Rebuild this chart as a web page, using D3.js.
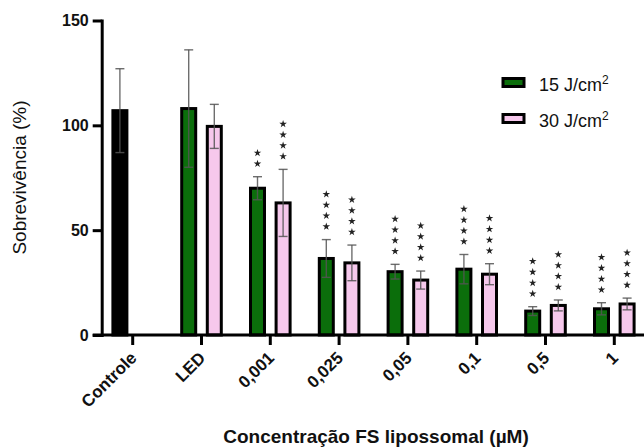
<!DOCTYPE html>
<html>
<head>
<meta charset="utf-8">
<script src="https://cdn.jsdelivr.net/npm/d3@7/dist/d3.min.js"></script>
<style>
  body { margin: 0; background: #fff; }
  svg { display: block; font-family: "Liberation Sans", Arial, sans-serif; }
</style>
</head>
<body>
<svg id="chart" width="644" height="448"></svg>
<script>
// data
const categories = ["Controle", "LED", "0,001", "0,025", "0,05", "0,1", "0,5", "1"];
const ctrlMean = [107];
const ctrlSD = [20];
const mean15 = [null, 108, 70, 36.5, 30.2, 31.4, 11.4, 12.5];
const sd15   = [null, 28, 5.5, 9, 3.5, 7, 2.1, 2.9];
const mean30 = [null, 99.5, 63, 34.4, 26.2, 29, 14.1, 14.8];
const sd30   = [null, 10.5, 16, 8.5, 4.3, 5, 2.6, 2.8];
const stars15 = [0, 0, 2, 4, 4, 4, 4, 4];
const stars30 = [0, 0, 4, 4, 4, 4, 4, 4];
const yTicks = [0, 50, 100, 150];
const seriesNames = ["15 J/cm", "30 J/cm"];

const green = "#0b6e0b", pink = "#f6c8ec";

let svg = d3.select("#chart");

let x = d3.scaleBand()
    .domain(categories)
    .range([98.3, 648.7])
    .padding(0);

let xSub = d3.scaleBand()
    .domain(["s15", "s30"])
    .range([x.bandwidth() / 2 - 25.6, x.bandwidth() / 2 + 25.6]);

let y = d3.scaleLinear()
    .domain([0, 150])
    .range([335, 20.5]);

let barW = 14;

// build rows from the arrays
let bars = [];
bars.push({cat: categories[0], sub: "s15", mean: ctrlMean[0], sd: ctrlSD[0], fill: "#000", stars: 0});
categories.forEach((c, i) => {
    if (mean15[i] != null) bars.push({cat: c, sub: "s15", mean: mean15[i], sd: sd15[i], fill: green, stars: stars15[i]});
    if (mean30[i] != null) bars.push({cat: c, sub: "s30", mean: mean30[i], sd: sd30[i], fill: pink, stars: stars30[i]});
});
let cx = (d) => x(d.cat) + xSub(d.sub) + xSub.bandwidth() / 2;

// bars
svg.append("g").selectAll("rect")
    .data(bars)
    .enter().append("rect")
    .attr("x", (d) => cx(d) - barW / 2)
    .attr("y", (d) => y(d.mean))
    .attr("width", barW)
    .attr("height", (d) => y(0) - y(d.mean))
    .attr("fill", (d) => d.fill)
    .attr("stroke", "#000")
    .attr("stroke-width", 3);

// error bars
let err = svg.append("g")
    .attr("stroke", "#555")
    .attr("stroke-opacity", 0.85)
    .attr("stroke-width", 1.4);

err.selectAll(".stem").data(bars).enter().append("line")
    .attr("x1", cx).attr("x2", cx)
    .attr("y1", (d) => y(d.mean - d.sd))
    .attr("y2", (d) => y(d.mean + d.sd));

err.selectAll(".capTop").data(bars).enter().append("line")
    .attr("x1", (d) => cx(d) - 4.5).attr("x2", (d) => cx(d) + 4.5)
    .attr("y1", (d) => y(d.mean + d.sd))
    .attr("y2", (d) => y(d.mean + d.sd));

err.selectAll(".capBot").data(bars).enter().append("line")
    .attr("x1", (d) => cx(d) - 4.5).attr("x2", (d) => cx(d) + 4.5)
    .attr("y1", (d) => y(d.mean - d.sd))
    .attr("y2", (d) => y(d.mean - d.sd));

// significance stars
let starData = [];
bars.forEach((d) => {
    for (let k = 0; k < d.stars; k++) starData.push({x: cx(d), y: y(d.mean + d.sd) - 13 - k * 10.8});
});
svg.append("g").selectAll("path")
    .data(starData)
    .enter().append("path")
    .attr("transform", (d) => "translate(" + d.x + "," + d.y + ")")
    .attr("d", d3.symbol(d3.symbolStar).size(18))
    .attr("fill", "#222");

// y axis
let yAxis = svg.append("g")
    .attr("transform", "translate(101.7,0)")
    .call(d3.axisLeft(y).tickValues(yTicks).tickSize(9).tickSizeOuter(0).tickPadding(4));
yAxis.select(".domain").attr("stroke-width", 3).attr("stroke-linecap", "square");
yAxis.selectAll(".tick line").attr("stroke-width", 3);
yAxis.selectAll(".tick text")
    .attr("font-size", 16).attr("font-weight", "bold").attr("fill", "#111")
    .attr("font-family", "Liberation Sans, Arial, sans-serif");

// x axis
let xAxis = svg.append("g")
    .attr("transform", "translate(0," + y(0) + ")")
    .call(d3.axisBottom(x).tickSize(10).tickSizeOuter(0));
xAxis.select(".domain").remove();
xAxis.append("line")
    .attr("x1", 92.7).attr("x2", 644)
    .attr("stroke", "#000").attr("stroke-width", 3);
xAxis.selectAll(".tick line").attr("stroke-width", 3);
xAxis.selectAll(".tick text")
    .attr("font-size", 17).attr("font-weight", "bold").attr("fill", "#111")
    .attr("font-family", "Liberation Sans, Arial, sans-serif")
    .attr("text-anchor", "end")
    .attr("y", 0).attr("dy", 0)
    .attr("transform", "translate(5,24) rotate(-45)");

// axis titles
svg.append("text")
    .attr("transform", "translate(26,177.5) rotate(-90)")
    .attr("text-anchor", "middle")
    .attr("font-size", 19)
    .attr("fill", "#111")
    .text("Sobrevivência (%)");

svg.append("text")
    .attr("x", 376).attr("y", 443)
    .attr("text-anchor", "middle")
    .attr("font-size", 19)
    .attr("font-weight", "bold")
    .attr("fill", "#111")
    .text("Concentração FS lipossomal (µM)");

// legend
let legend = svg.append("g").selectAll("g")
    .data(seriesNames)
    .enter().append("g")
    .attr("transform", (d, i) => "translate(503," + (78.5 + i * 36) + ")");
legend.append("rect")
    .attr("width", 21).attr("height", 8)
    .attr("fill", (d, i) => i === 0 ? green : pink)
    .attr("stroke", "#000").attr("stroke-width", 3);
let lt = legend.append("text")
    .attr("x", 36).attr("y", 12)
    .attr("font-size", 18)
    .attr("fill", "#111")
    .text((d) => d);
lt.append("tspan")
    .attr("dy", -7)
    .attr("font-size", 12)
    .text("2");
</script>
</body>
</html>
